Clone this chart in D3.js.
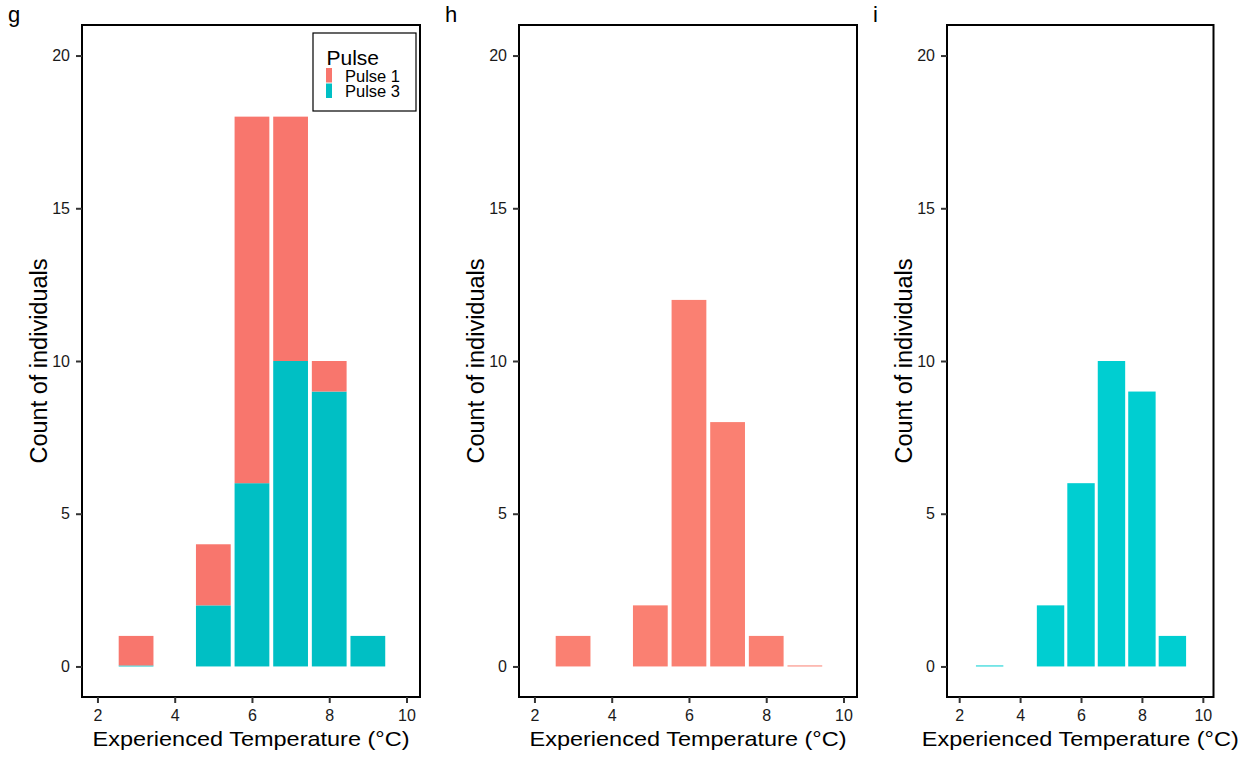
<!DOCTYPE html>
<html>
<head>
<meta charset="utf-8">
<script src="https://cdn.jsdelivr.net/npm/d3@7"></script>
<style>
  body { margin: 0; background: #fff; }
  svg text { font-family: "Liberation Sans", Arial, sans-serif; }
</style>
</head>
<body>
<svg id="chart" width="1250" height="759"></svg>
<script>
// data
const temps = [3, 5, 6, 7, 8, 9]
const pulse1 = [1, 2, 12, 8, 1, 0]
const pulse3 = [0, 2, 6, 10, 9, 1]
const yTicks = [0, 5, 10, 15, 20]
const xTicks = [2, 4, 6, 8, 10]
const seriesNames = ["Pulse 1", "Pulse 3"]

const svg = d3.select("#chart")
const plotTop = 25, plotBottom = 697

// panel layout: letter, pixel extent, series
const panels = [
  { letter: "g", x0: 82, x1: 420, stacked: true },
  { letter: "h", x0: 519, x1: 857, series: pulse1, color: "#FA8072" },
  { letter: "i", x0: 947, x1: 1213.5, series: pulse3, color: "#00CED1" }
]
const stackColors = { "Pulse 1": "#F8766D", "Pulse 3": "#00BFC4" }

const y = d3.scaleLinear().domain([-1, 21]).range([plotBottom, plotTop])

panels.forEach(p => {
  const x = d3.scaleLinear().domain([1.6, 10.35]).range([p.x0, p.x1])
  const bw = x(0.9) - x(0)
  const g = svg.append("g")

  // bars
  if (p.stacked) {
    temps.forEach((t, i) => {
      // pulse 3 on the bottom, pulse 1 on top
      const b3 = y(0), t3 = y(pulse3[i])
      g.append("rect").attr("x", x(t) - bw / 2).attr("width", bw)
        .attr("y", Math.min(t3, b3 - 1)).attr("height", Math.max(b3 - t3, 1))
        .attr("fill", stackColors["Pulse 3"])
      if (pulse1[i] > 0) {
        const t1 = y(pulse3[i] + pulse1[i])
        g.append("rect").attr("x", x(t) - bw / 2).attr("width", bw)
          .attr("y", t1).attr("height", t3 - t1 - (pulse3[i] > 0 ? 0 : 1))
          .attr("fill", stackColors["Pulse 1"])
      }
    })
  } else {
    g.selectAll("rect.bar").data(temps).enter().append("rect")
      .attr("class", "bar")
      .attr("x", t => x(t) - bw / 2).attr("width", bw)
      .attr("y", (t, i) => Math.min(y(p.series[i]), y(0) - 1))
      .attr("height", (t, i) => Math.max(y(0) - y(p.series[i]), 1))
      .attr("fill", p.color)
  }

  // border
  g.append("rect").attr("x", p.x0).attr("y", plotTop)
    .attr("width", p.x1 - p.x0).attr("height", plotBottom - plotTop)
    .attr("fill", "none").attr("stroke", "#000").attr("stroke-width", 2)

  // axes
  const ya = g.append("g").attr("transform", `translate(${p.x0},0)`)
    .call(d3.axisLeft(y).tickValues(yTicks).tickSize(6).tickPadding(6))
  const xa = g.append("g").attr("transform", `translate(0,${plotBottom})`)
    .call(d3.axisBottom(x).tickValues(xTicks).tickSize(6).tickPadding(7))
  ;[ya, xa].forEach(a => {
    a.select(".domain").remove()
    a.selectAll(".tick line").attr("stroke", "#333").attr("stroke-width", 2)
    a.selectAll(".tick text").attr("fill", "#1a1a1a").style("font-size", "16px")
  })

  // titles
  g.append("text").attr("x", (p.x0 + p.x1) / 2).attr("y", 746)
    .attr("text-anchor", "middle").style("font-size", "21px")
    .attr("textLength", 317).attr("lengthAdjust", "spacingAndGlyphs")
    .text("Experienced Temperature (°C)")
  g.append("text").attr("transform", `translate(${p.x0 - 35},${(plotTop + plotBottom) / 2}) rotate(-90)`)
    .attr("text-anchor", "middle").style("font-size", "23px")
    .attr("textLength", 205).attr("lengthAdjust", "spacingAndGlyphs")
    .text("Count of individuals")
  g.append("text").attr("x", p.x0 - 74).attr("y", 22)
    .style("font-size", "22px").text(p.letter)

  // legend
  if (p.stacked) {
    const lg = g.append("g").attr("transform", "translate(313,33)")
    lg.append("rect").attr("width", 103).attr("height", 78)
      .attr("fill", "#fff").attr("stroke", "#000").attr("stroke-width", 1.2)
    lg.append("text").attr("x", 13.5).attr("y", 32).style("font-size", "21px").text("Pulse")
    seriesNames.forEach((n, i) => {
      lg.append("rect").attr("x", 13).attr("y", 35 + i * 15.5).attr("width", 6).attr("height", 14.5)
        .attr("fill", stackColors[n])
      lg.append("text").attr("x", 32).attr("y", 48.5 + i * 15.5).style("font-size", "16.5px").text(n)
    })
  }
})
</script>
</body>
</html>
